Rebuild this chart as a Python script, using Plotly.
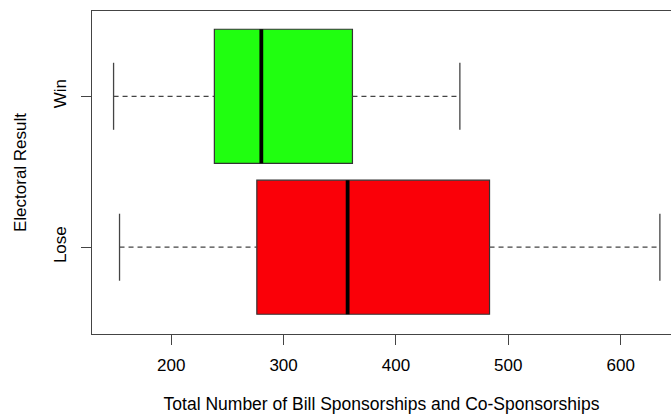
import plotly.graph_objects as go

# Data
groups = ["Lose", "Win"]
lower_whisker = [154.0, 148.7]
q1 = [276.2, 238.4]
median = [357.0, 280.2]
q3 = [483.3, 361.3]
upper_whisker = [634.9, 456.9]
fill_colors = ["#fa0008", "#20ff10"]
x_ticks = [200, 300, 400, 500, 600]

box_w = 0.888
cap_w = 0.5 * box_w

fig = go.Figure()
pos = list(range(len(groups)))

for i, g in enumerate(groups):
    y = pos[i]
    # whiskers (dashed)
    fig.add_trace(go.Scatter(x=[lower_whisker[i], q1[i], None, q3[i], upper_whisker[i]],
                             y=[y, y, None, y, y], mode="lines",
                             line=dict(color="#444", width=1.3, dash="5px,4px"),
                             showlegend=False, hoverinfo="skip"))
    # caps
    fig.add_trace(go.Scatter(x=[lower_whisker[i], lower_whisker[i], None, upper_whisker[i], upper_whisker[i]],
                             y=[y - cap_w / 2, y + cap_w / 2, None, y - cap_w / 2, y + cap_w / 2],
                             mode="lines", line=dict(color="#444", width=1.3),
                             showlegend=False, hoverinfo="skip"))
    # box
    fig.add_trace(go.Bar(x=[q3[i] - q1[i]], base=[q1[i]], y=[y], orientation="h",
                         width=box_w, marker=dict(color=fill_colors[i], line=dict(color="#333", width=1.2)),
                         showlegend=False, hoverinfo="skip"))
    # median
    fig.add_trace(go.Scatter(x=[median[i], median[i]], y=[y - box_w / 2, y + box_w / 2],
                             mode="lines", line=dict(color="black", width=3.8),
                             showlegend=False, hoverinfo="skip"))

fig.update_layout(
    width=671, height=414,
    margin=dict(l=92, r=0, t=11, b=80, autoexpand=False),
    paper_bgcolor="white", plot_bgcolor="white",
    font=dict(family="Liberation Sans, Arial, sans-serif", size=17, color="black"),
    barmode="overlay",
    xaxis=dict(range=[129.5, 644.8], tickvals=x_ticks, ticks="outside", ticklen=10,
               tickcolor="#444", showline=True, linecolor="#444", linewidth=1.3, mirror=True,
               showgrid=False, zeroline=False, ticklabelstandoff=5, automargin=False,
               title=dict(text="Total Number of Bill Sponsorships and Co-Sponsorships", standoff=31,
                          font=dict(size=17.5))),
    yaxis=dict(range=[-0.575, 1.565], tickvals=pos, ticktext=groups, tickangle=-90,
               ticks="outside", ticklen=10, tickcolor="#444", showline=True, linecolor="#444",
               linewidth=1.3, mirror=False, showgrid=False, zeroline=False, ticklabelstandoff=8,
               automargin=False,
               title=dict(text="Electoral Result", standoff=20, font=dict(size=17))),
)

fig.write_html(
    "out.html",
    config={"displayModeBar": False},
    post_script="document.body.style.margin='0';document.body.style.overflow='hidden';",
)
